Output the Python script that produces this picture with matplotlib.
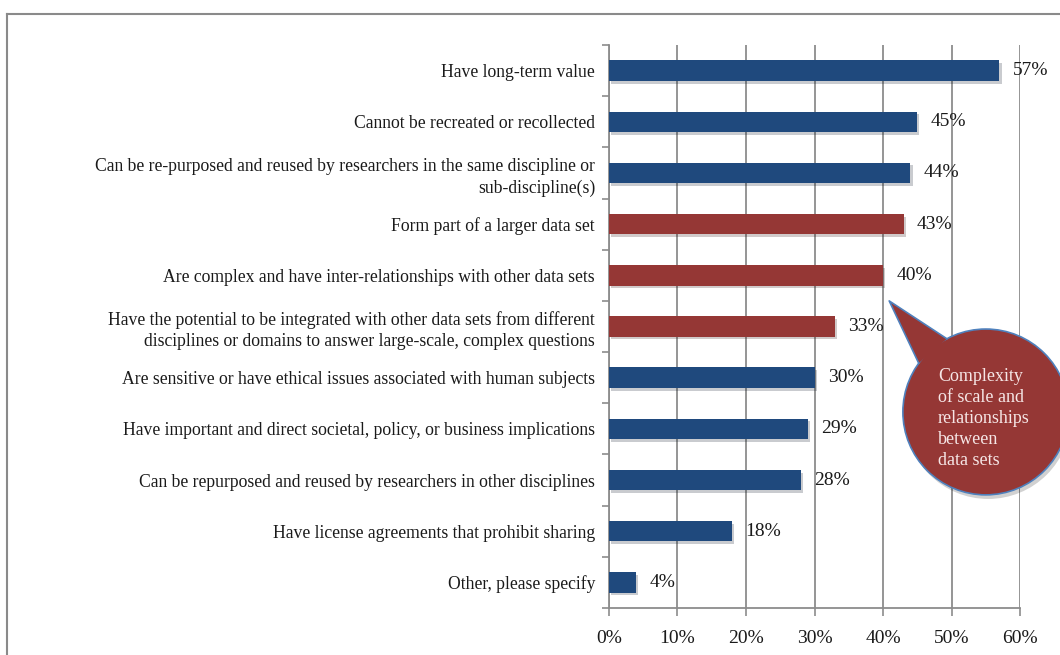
import numpy as np
import matplotlib
matplotlib.use("Agg")
from matplotlib import pyplot as plt
from matplotlib.patches import Ellipse, Polygon
from matplotlib.lines import Line2D
import matplotlib.patheffects as pe

categories = [
    "Have long-term value",
    "Cannot be recreated or recollected",
    "Can be re-purposed and reused by researchers in the same discipline or\nsub-discipline(s)",
    "Form part of a larger data set",
    "Are complex and have inter-relationships with other data sets",
    "Have the potential to be integrated with other data sets from different\ndisciplines or domains to answer large-scale, complex questions",
    "Are sensitive or have ethical issues associated with human subjects",
    "Have important and direct societal, policy, or business implications",
    "Can be repurposed and reused by researchers in other disciplines",
    "Have license agreements that prohibit sharing",
    "Other, please specify",
]
values = [57, 45, 44, 43, 40, 33, 30, 29, 28, 18, 4]
highlighted = [False, False, False, True, True, True, False, False, False, False, False]
x_ticks = [0, 10, 20, 30, 40, 50, 60]
callout_text = "Complexity\nof scale and\nrelationships\nbetween\ndata sets"

BLUE = "#1f497d"
RED = "#953735"
GRID = "#8c8c8c"

plt.rcParams["font.family"] = ["Liberation Serif", "DejaVu Serif"]

fig = plt.figure(figsize=(10.6, 6.55), dpi=100)
ax = fig.add_axes([0.5745, 0.0718, 0.3878, 0.8595])

y = np.arange(len(categories))
colors = [RED if h else BLUE for h in highlighted]
bars = ax.barh(y, values, height=0.4, color=colors, zorder=3)
for b in bars:
    b.set_path_effects([pe.SimplePatchShadow(offset=(1.5, -2), alpha=0.22), pe.Normal()])

for yi, v in zip(y, values):
    ax.annotate(f"{v}%", (v, yi), xytext=(9.5, 0), textcoords="offset points",
                va="center", ha="left", fontsize=14, color="#1a1a1a", zorder=6)

ax.set_xlim(0, 60)
ax.set_ylim(len(categories) - 0.5, -0.5)
ax.set_xticks(x_ticks)
ax.set_xticklabels([f"{t}%" for t in x_ticks], fontsize=14, color="#1a1a1a")
ax.set_yticks(y)
ax.set_yticklabels(categories, fontsize=12.7, color="#1a1a1a", linespacing=1.35)
ax.set_yticks(np.arange(-0.5, len(categories)), minor=True)

ax.tick_params(axis="y", which="major", length=0, pad=10)
ax.tick_params(axis="y", which="minor", length=5, width=1.2, color=GRID, direction="out")
ax.tick_params(axis="x", length=6, width=1.2, color=GRID, pad=10)

for s in ["top", "right"]:
    ax.spines[s].set_visible(False)
for s in ["left", "bottom"]:
    ax.spines[s].set_color(GRID)
    ax.spines[s].set_linewidth(1.3)

ax.xaxis.grid(True, color=GRID, linewidth=1.3, zorder=0)
ax.set_axisbelow(True)

# speech-bubble callout for the highlighted group
cx, cy = 55.0, 6.67
a, b = 12.1, 1.62
tip = (40.9, 4.5)
th1, th2 = np.deg2rad(242), np.deg2rad(216)
p1 = (cx + a * np.cos(th1), cy + b * np.sin(th1))
p2 = (cx + a * np.cos(th2), cy + b * np.sin(th2))

shadow = Ellipse((cx + 0.35, cy + 0.08), 2 * a, 2 * b, facecolor="black", alpha=0.18,
                 edgecolor="none", clip_on=False, zorder=7)
ax.add_patch(shadow)
ax.add_patch(Ellipse((cx, cy), 2 * a, 2 * b, facecolor=RED, edgecolor="#4f81bd",
                     linewidth=1.2, clip_on=False, zorder=8))
ax.add_patch(Polygon([p1, tip, p2], closed=True, facecolor=RED, edgecolor="none",
                     clip_on=False, zorder=9))
ax.add_line(Line2D([p1[0], tip[0], p2[0]], [p1[1], tip[1], p2[1]], color="#4f81bd",
                   linewidth=1.2, clip_on=False, zorder=10))
ax.text(48.0, 6.8, callout_text, ha="left", va="center", fontsize=13,
        color="#f6e6e6", linespacing=1.3, zorder=11, clip_on=False)

# outer frame
fig.add_artist(Line2D([7 / 1060, 1.0], [1 - 14 / 655] * 2, transform=fig.transFigure,
                      color="#8a8a8a", linewidth=1.5))
fig.add_artist(Line2D([7 / 1060] * 2, [0.0, 1 - 14 / 655], transform=fig.transFigure,
                      color="#8a8a8a", linewidth=1.5))

fig.savefig("out.png", dpi=100)
